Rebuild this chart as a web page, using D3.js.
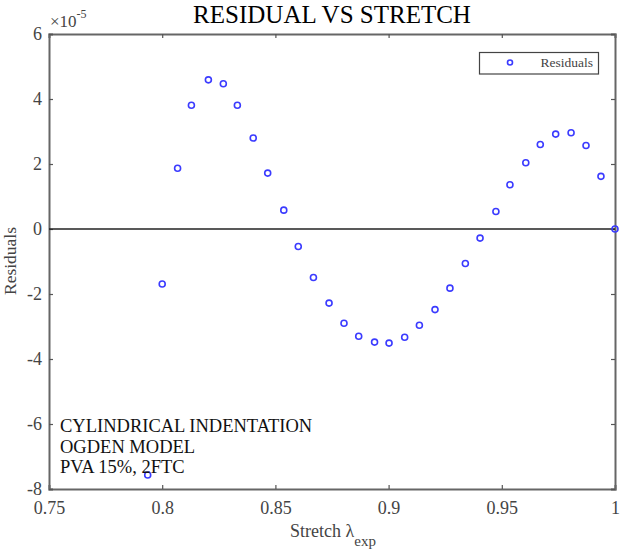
<!DOCTYPE html>
<html>
<head>
<meta charset="utf-8">
<script src="https://cdn.jsdelivr.net/npm/d3@7"></script>
<style>
  body { margin: 0; background: #fff; }
  svg { display: block; font-family: "Liberation Serif", "DejaVu Serif", serif; }
</style>
</head>
<body>
<div id="chart"></div>
<script>
// stretch values (x) and residuals in units of 1e-5 (y)
var stretch = [0.7936, 0.8000, 0.8068, 0.8129, 0.8204, 0.8270, 0.8332, 0.8402,
               0.8466, 0.8537, 0.8601, 0.8668, 0.8737, 0.8803, 0.8868, 0.8938,
               0.9002, 0.9071, 0.9136, 0.9205, 0.9271, 0.9339, 0.9404, 0.9474,
               0.9536, 0.9606, 0.9670, 0.9738, 0.9806, 0.9872, 0.9938, 1.0000];
var residuals = [-7.57, -1.69, 1.87, 3.81, 4.59, 4.47, 3.81, 2.80,
                 1.72, 0.58, -0.54, -1.49, -2.28, -2.90, -3.30, -3.48,
                 -3.51, -3.33, -2.96, -2.48, -1.82, -1.06, -0.28, 0.54,
                 1.36, 2.04, 2.60, 2.92, 2.96, 2.57, 1.62, 0.00];
var xTicks = [0.75, 0.8, 0.85, 0.9, 0.95, 1];
var yTicks = [-8, -6, -4, -2, 0, 2, 4, 6];
var notes = ["CYLINDRICAL INDENTATION", "OGDEN MODEL", "PVA 15%, 2FTC"];

var W = 624, H = 550;
var margin = {left: 49, right: 9, top: 34, bottom: 61};
var width = W - margin.left - margin.right;
var height = H - margin.top - margin.bottom;

var svg = d3.select("#chart").append("svg")
    .attr("width", W)
    .attr("height", H);

var g = svg.append("g")
    .attr("transform", "translate(" + margin.left + "," + margin.top + ")");

var x = d3.scaleLinear().domain([0.75, 1]).range([0, width]);
var y = d3.scaleLinear().domain([-8, 6]).range([height, 0]);

var axisColor = "#666";
var labelColor = "#444";

// plain hyphen for negatives, like the original
var fmt = function(d) { return String(d); };

// axes
var xAxis = g.append("g")
    .attr("transform", "translate(0," + height + ")")
    .call(d3.axisBottom(x).tickValues(xTicks).tickSize(-4).tickPadding(12).tickFormat(fmt));
var xTop = g.append("g")
    .call(d3.axisTop(x).tickValues(xTicks).tickSize(-4).tickFormat(""));
var yAxis = g.append("g")
    .call(d3.axisLeft(y).tickValues(yTicks).tickSize(-4).tickPadding(7).tickFormat(fmt));
var yRight = g.append("g")
    .attr("transform", "translate(" + width + ",0)")
    .call(d3.axisRight(y).tickValues(yTicks).tickSize(-4).tickFormat(""));

[xAxis, xTop, yAxis, yRight].forEach(function(a) {
    a.select(".domain").attr("stroke", axisColor).attr("stroke-width", 2);
    a.selectAll(".tick line").attr("stroke", "#555").attr("stroke-width", 1.2);
    a.selectAll("text")
        .attr("fill", labelColor)
        .style("font-family", "Liberation Serif, serif")
        .style("font-size", "18px");
});

// zero line
g.append("line")
    .attr("x1", 0).attr("x2", width)
    .attr("y1", y(0)).attr("y2", y(0))
    .attr("stroke", "#222")
    .attr("stroke-width", 1.5);

// points
g.selectAll("circle.pt")
    .data(stretch.map(function(s, i) { return {x: s, y: residuals[i]}; }))
    .enter().append("circle")
    .attr("class", "pt")
    .attr("cx", function(d) { return x(d.x); })
    .attr("cy", function(d) { return y(d.y); })
    .attr("r", 3)
    .attr("fill", "none")
    .attr("stroke", "#3b3bff")
    .attr("stroke-width", 1.6);

// exponent label
var expo = svg.append("text")
    .attr("x", margin.left + 1)
    .attr("y", 27)
    .attr("fill", labelColor)
    .style("font-size", "17px");
expo.append("tspan").text("\u00d710");
expo.append("tspan").attr("dy", -9).style("font-size", "12px").text("-5");

// title
svg.append("text")
    .attr("x", 332)
    .attr("y", 23)
    .attr("text-anchor", "middle")
    .attr("fill", "#000")
    .style("font-size", "25px")
    .text("RESIDUAL VS STRETCH");

// axis titles
svg.append("text")
    .attr("transform", "translate(16,261) rotate(-90)")
    .attr("text-anchor", "middle")
    .attr("fill", labelColor)
    .style("font-size", "17.5px")
    .text("Residuals");

var xl = svg.append("text")
    .attr("x", 290)
    .attr("y", 537)
    .attr("fill", labelColor)
    .style("font-size", "18px");
xl.append("tspan").text("Stretch \u03bb");
xl.append("tspan").attr("dy", 9).style("font-size", "15px").text("exp");

// annotation
svg.selectAll("text.note")
    .data(notes)
    .enter().append("text")
    .attr("class", "note")
    .attr("x", 60)
    .attr("y", function(d, i) { return 432 + i * 20.5; })
    .attr("fill", "#111")
    .style("font-size", "18.5px")
    .text(function(d) { return d; });

// legend
var leg = svg.append("g");
leg.append("rect")
    .attr("x", 479.5).attr("y", 52.5)
    .attr("width", 119).attr("height", 21.5)
    .attr("fill", "#fff")
    .attr("stroke", "#444")
    .attr("stroke-width", 1.2);
leg.append("circle")
    .attr("cx", 510).attr("cy", 62.5).attr("r", 2.5)
    .attr("fill", "none").attr("stroke", "#3b3bff").attr("stroke-width", 1.6);
leg.append("text")
    .attr("x", 593).attr("y", 67)
    .attr("text-anchor", "end")
    .attr("fill", "#444")
    .style("font-size", "13.5px")
    .text("Residuals");
</script>
</body>
</html>
